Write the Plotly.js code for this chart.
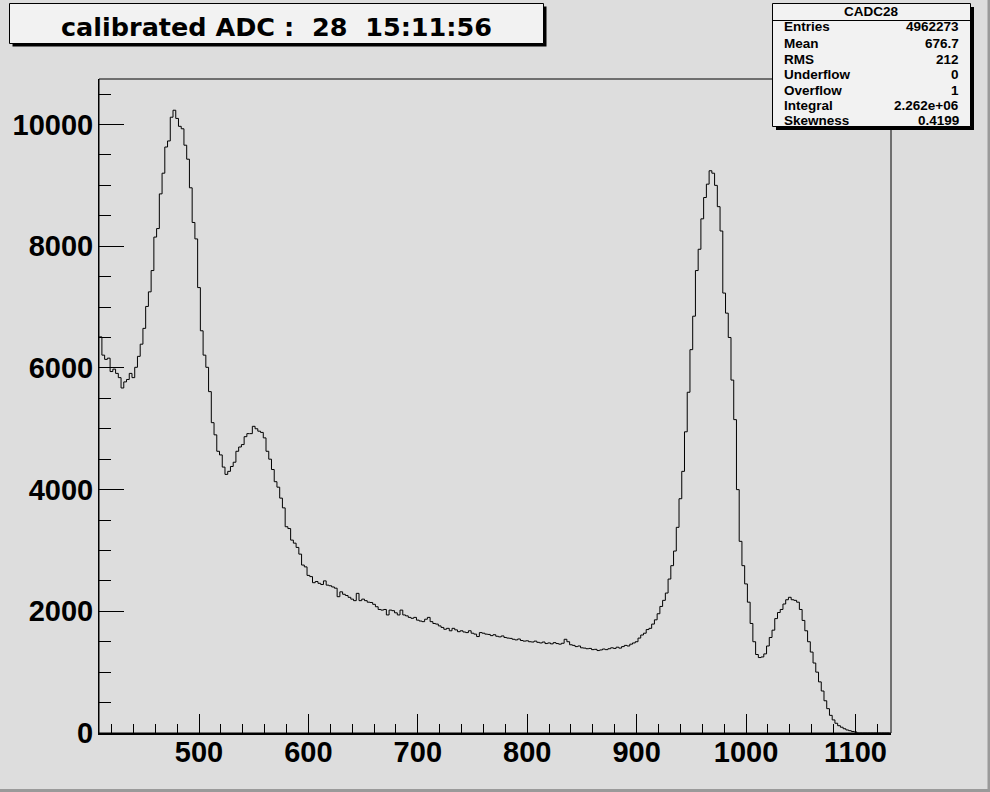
<!DOCTYPE html>
<html>
<head>
<meta charset="utf-8">
<script src="https://cdn.plot.ly/plotly-3.0.1.min.js"></script>
<style>html,body{margin:0;padding:0;background:#dddddd;}#chart{width:990px;height:792px;}</style>
</head>
<body>
<div id="chart"></div>
<script>
// ---- histogram: bins of width 2.5, first bin starts at 408.75 ----
const binLow = 408.75;
const binWidth = 2.5;
const counts = [
  6510,6210,6140,6160,5940,5980,5910,5840,5670,5770,
  5810,5910,5840,6010,6190,6390,6650,7010,7250,7600,
  8150,8290,8860,9200,9630,9730,10120,10235,10100,9970,
  9930,9660,9430,8960,8390,8120,7320,6610,6210,6010,
  5610,5100,4900,4630,4570,4370,4250,4300,4380,4450,
  4630,4700,4740,4870,4920,4920,5040,5000,4960,4940,
  4850,4630,4500,4330,4130,4040,3860,3700,3390,3360,
  3170,3120,3050,2940,2760,2730,2590,2570,2470,2490,
  2460,2440,2500,2430,2420,2400,2380,2240,2320,2280,
  2260,2230,2200,2175,2295,2175,2200,2175,2150,2145,
  2115,2075,2030,2020,2030,1940,2020,2010,1975,1940,
  2020,1940,1925,1900,1885,1900,1855,1840,1830,1870,
  1900,1830,1800,1790,1760,1735,1705,1720,1680,1720,
  1695,1665,1680,1660,1650,1680,1640,1625,1585,1650,
  1640,1625,1620,1600,1615,1590,1580,1595,1570,1560,
  1555,1540,1530,1545,1520,1510,1515,1500,1495,1510,
  1490,1480,1495,1470,1480,1465,1485,1470,1460,1475,
  1540,1500,1450,1440,1420,1430,1400,1395,1385,1390,
  1370,1375,1355,1365,1380,1370,1385,1400,1390,1410,
  1395,1420,1440,1430,1460,1480,1500,1560,1610,1640,
  1700,1720,1790,1860,1960,2080,2180,2300,2530,2750,
  2990,3380,3850,4300,4950,5600,6300,6850,7600,7950,
  8450,8800,9020,9240,9200,9000,8650,8250,7230,6900,
  6500,5800,5150,4000,3150,2750,2450,2150,1800,1500,
  1290,1240,1250,1300,1430,1570,1690,1880,1980,2030,
  2120,2190,2230,2190,2180,2150,2030,1850,1680,1500,
  1330,1150,1000,840,690,530,400,290,215,160,
  120,95,70,50,38,25,18,0,0,0,
  0,0,0,0,0,0,0,0,0
];

const titleText = "calibrated ADC :\u00a0\u00a028\u00a0\u00a015:11:56";
const statsName = "CADC28";
const statsLabels = ["Entries","Mean","RMS","Underflow","Overflow","Integral","Skewness"];
const statsValues = ["4962273","676.7","212","0","1","2.262e+06","0.4199"];

// ---- geometry helpers (pixel -> paper) ----
const L = 99, R = 891, T = 79, B = 733;
const W = R - L, H = B - T;
const xp = px => (px - L) / W;
const yp = py => (B - py) / H;

// histogram drawn as a step line through the bin edges
const xs = [], ys = [];
for (let i = 0; i < counts.length; i++) {
  xs.push(binLow + i * binWidth); ys.push(counts[i]);
}
xs.push(binLow + counts.length * binWidth); ys.push(counts[counts.length - 1]);

const FONT = 'Liberation Sans, Arial, Helvetica, sans-serif';
const TFONT = 'DejaVu Sans, Liberation Sans, sans-serif';

const shapes = [
  {type:'rect', xref:'paper', yref:'paper', x0:0, x1:1, y0:0, y1:1, line:{color:'black', width:1}, fillcolor:'rgba(0,0,0,0)'},
  {type:'rect', xref:'paper', yref:'paper', x0:xp(0), x1:xp(990), y0:yp(789), y1:yp(792), line:{width:0}, fillcolor:'#9a9a9a'},
  {type:'rect', xref:'paper', yref:'paper', x0:xp(987.5), x1:xp(990), y0:yp(0), y1:yp(792), line:{width:0}, fillcolor:'#9a9a9a'},
  {type:'rect', xref:'paper', yref:'paper', x0:xp(12.5), x1:xp(546.5), y0:yp(6.5), y1:yp(46.5), line:{width:0}, fillcolor:'black'},
  {type:'rect', xref:'paper', yref:'paper', x0:xp(9.5), x1:xp(543.5), y0:yp(3.5), y1:yp(43.5), line:{color:'black', width:1}, fillcolor:'#f2f2f2'},
  {type:'rect', xref:'paper', yref:'paper', x0:xp(776), x1:xp(974), y0:yp(7), y1:yp(130), line:{width:0}, fillcolor:'black'},
  {type:'rect', xref:'paper', yref:'paper', x0:xp(772.5), x1:xp(970.5), y0:yp(3.5), y1:yp(126.5), line:{color:'black', width:1}, fillcolor:'#f2f2f2'},
  {type:'line', xref:'paper', yref:'paper', x0:xp(772.5), x1:xp(970.5), y0:yp(20.5), y1:yp(20.5), line:{color:'black', width:1}}
];

const annotations = [
  {xref:'paper', yref:'paper', x:xp(276.5), y:yp(27.5), xanchor:'center', yanchor:'middle', showarrow:false,
   text:titleText, font:{family:TFONT, size:25.5, color:'black', weight:'bold'}},
  {xref:'paper', yref:'paper', x:xp(871.5), y:yp(12), xanchor:'center', yanchor:'middle', showarrow:false,
   text:statsName, font:{family:FONT, size:13.5, color:'black', weight:'bold'}}
];
const rowY = [27, 43, 59, 74.5, 90.5, 105.5, 121];
statsLabels.forEach((lab, i) => {
  annotations.push({xref:'paper', yref:'paper', x:xp(781.5), y:yp(rowY[i]), xanchor:'left', yanchor:'middle', showarrow:false,
    text:lab, font:{family:FONT, size:13.5, color:'black', weight:'bold'}});
  annotations.push({xref:'paper', yref:'paper', x:xp(961), y:yp(rowY[i]), xanchor:'right', yanchor:'middle', showarrow:false,
    text:statsValues[i], font:{family:FONT, size:13.5, color:'black', weight:'bold'}});
});

const trace = {
  type:'scatter', mode:'lines', x:xs, y:ys,
  line:{shape:'hv', color:'black', width:1}, hoverinfo:'skip', showlegend:false
};

const tickFont = {family:FONT, size:29, color:'black', weight:'bold'};
const layout = {
  width:990, height:792,
  margin:{l:L, r:990 - R, t:T, b:792 - B, pad:0},
  paper_bgcolor:'#dddddd', plot_bgcolor:'#dddddd',
  showlegend:false,
  xaxis:{range:[408.6, 1132.5], autorange:false, showgrid:false, zeroline:false,
    showline:true, linecolor:'black', linewidth:2,
    ticks:'inside', ticklen:19, tickwidth:1, tickcolor:'black', dtick:100, tick0:0,
    minor:{ticks:'inside', ticklen:9.5, tickwidth:1, tickcolor:'black', dtick:20, showgrid:false},
    tickfont:tickFont, ticklabelstandoff:-8},
  yaxis:{range:[0, 10748], autorange:false, showgrid:false, zeroline:false,
    showline:true, linecolor:'black', linewidth:1,
    ticks:'inside', ticklen:24.5, tickwidth:1, tickcolor:'black', dtick:2000, tick0:0,
    minor:{ticks:'inside', ticklen:12, tickwidth:1, tickcolor:'black', dtick:500, showgrid:false},
    tickfont:tickFont, tickformat:'d', ticklabelstandoff:-1},
  shapes:shapes,
  annotations:annotations
};

Plotly.newPlot('chart', [trace], layout, {staticPlot:true, displayModeBar:false});
</script>
</body>
</html>
